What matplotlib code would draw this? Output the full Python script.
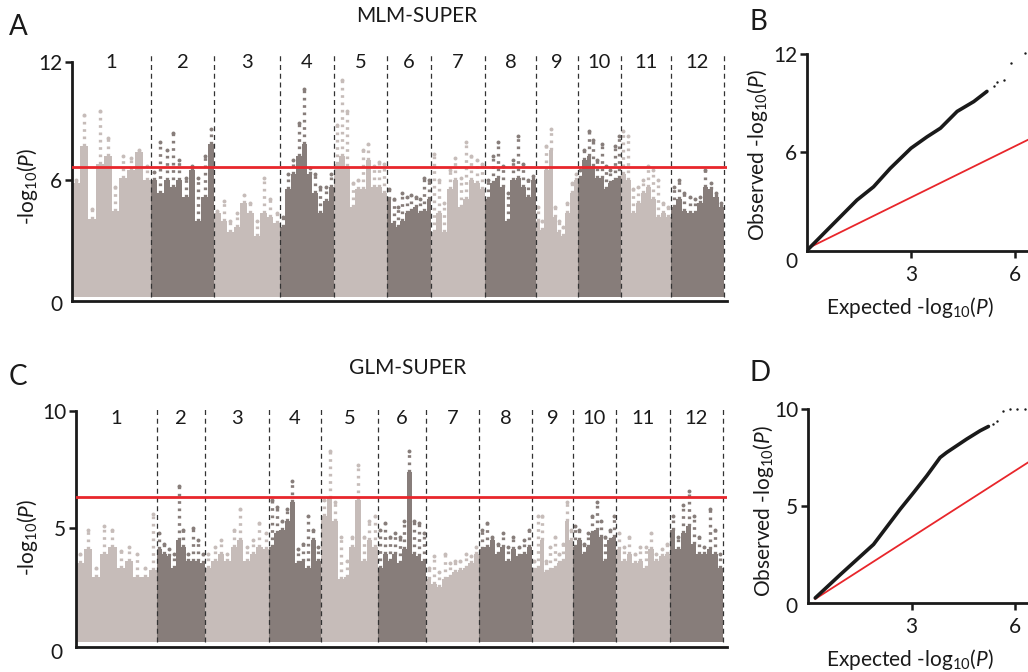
import numpy as np
import matplotlib
matplotlib.use("Agg")
import matplotlib.pyplot as plt

plt.rcParams['font.family'] = ['Lato', 'DejaVu Sans']
plt.rcParams['mathtext.fontset'] = 'custom'
plt.rcParams['mathtext.rm'] = 'Lato'
plt.rcParams['mathtext.it'] = 'Lato:italic'
plt.rcParams['mathtext.default'] = 'regular'

# ---- data ----
chromosomes = [str(i) for i in range(1, 13)]

# relative chromosome widths as drawn in each Manhattan panel
mlm_widths = [79, 63, 66, 54, 53, 44, 54, 51, 42, 43, 50, 53]
glm_widths = [81, 48, 64, 52, 57, 48, 53, 53, 41, 43, 54, 53]

# MLM-SUPER: dense body height and highest point, 10 windows per chromosome
mlm_body = [
    [5.8, 7.7, 4.0, 6.8, 7.2, 4.4, 6.1, 6.5, 7.4, 6.0],
    [6.0, 5.3, 6.0, 5.6, 6.0, 5.1, 6.5, 3.9, 5.1, 7.8],
    [4.3, 3.9, 3.3, 3.6, 4.8, 4.3, 3.1, 4.3, 4.1, 3.8],
    [3.6, 5.5, 6.3, 7.2, 7.8, 6.3, 5.3, 4.3, 4.9, 5.6],
    [6.8, 7.2, 6.7, 4.6, 5.5, 5.5, 7.0, 5.6, 5.6, 5.3],
    [5.0, 3.8, 3.6, 3.9, 4.3, 4.4, 4.6, 4.3, 4.4, 5.0],
    [3.3, 4.3, 3.3, 5.5, 6.0, 4.6, 5.0, 6.0, 5.8, 5.5],
    [5.0, 5.8, 6.1, 5.6, 3.9, 6.0, 6.1, 5.6, 5.1, 6.0],
    [3.9, 3.4, 6.5, 7.5, 4.1, 3.3, 3.1, 4.3, 5.3, 6.0],
    [6.1, 7.0, 7.2, 6.7, 6.1, 6.1, 5.5, 5.8, 6.0, 6.1],
    [6.3, 6.0, 4.3, 4.8, 5.3, 5.6, 5.0, 4.1, 4.3, 4.1],
    [4.6, 5.0, 4.4, 4.3, 4.3, 4.8, 5.6, 5.5, 5.1, 4.6],
]
mlm_peak = [
    [6.0, 9.3, 4.5, 9.5, 8.1, 5.6, 7.2, 7.1, 7.5, 6.7],
    [6.4, 7.9, 7.5, 8.4, 7.0, 6.1, 6.7, 6.1, 7.2, 8.6],
    [4.4, 4.9, 3.9, 4.3, 5.2, 4.8, 3.9, 6.1, 5.0, 4.3],
    [4.1, 6.3, 7.0, 8.9, 10.6, 6.6, 6.3, 5.6, 5.6, 6.3],
    [8.8, 11.1, 9.5, 5.8, 6.0, 7.5, 7.8, 6.7, 6.9, 6.8],
    [5.5, 5.0, 4.6, 5.3, 5.1, 5.2, 5.1, 5.0, 6.1, 6.0],
    [7.3, 6.0, 4.8, 6.5, 7.1, 6.1, 7.9, 7.2, 7.0, 6.8],
    [6.0, 7.2, 7.9, 6.7, 5.3, 7.0, 8.2, 6.8, 6.0, 6.2],
    [4.6, 3.9, 7.7, 8.6, 4.6, 3.9, 3.6, 4.8, 5.8, 6.3],
    [6.5, 7.5, 8.5, 8.0, 7.0, 7.8, 6.7, 6.5, 7.7, 8.2],
    [8.5, 8.2, 5.5, 5.6, 6.0, 6.7, 6.5, 6.0, 4.8, 4.6],
    [5.6, 6.0, 5.3, 5.1, 5.0, 5.1, 6.5, 5.8, 5.3, 4.8],
]

# GLM-SUPER
glm_body = [
    [3.5, 4.1, 2.9, 3.9, 4.2, 3.3, 3.6, 2.9, 2.9, 3.2],
    [4.1, 3.9, 3.8, 3.3, 4.5, 4.2, 3.6, 3.6, 3.6, 3.5],
    [3.3, 3.6, 3.9, 3.6, 4.2, 4.5, 3.6, 3.9, 4.2, 4.1],
    [4.2, 4.8, 4.9, 5.3, 6.1, 3.5, 3.6, 3.3, 4.5, 3.6],
    [5.5, 6.3, 5.3, 2.8, 2.9, 4.2, 6.2, 3.6, 4.5, 4.2],
    [3.3, 3.9, 3.6, 3.9, 3.5, 4.1, 7.4, 3.9, 3.8, 3.6],
    [2.8, 2.6, 2.5, 2.8, 2.9, 3.1, 3.2, 3.3, 3.5, 3.9],
    [4.1, 4.2, 4.5, 3.9, 4.2, 3.6, 4.1, 3.8, 3.9, 4.2],
    [3.2, 3.3, 4.5, 3.1, 3.2, 3.3, 3.5, 3.6, 5.3, 4.5],
    [4.2, 4.5, 3.9, 4.2, 4.8, 4.9, 4.6, 3.6, 4.5, 4.6],
    [4.1, 3.6, 3.9, 3.5, 3.6, 3.3, 4.1, 3.6, 3.8, 3.9],
    [4.9, 4.1, 4.8, 5.1, 4.3, 3.9, 3.9, 4.1, 3.9, 3.3],
]
glm_peak = [
    [3.9, 4.9, 3.3, 5.1, 4.9, 4.0, 4.2, 3.9, 3.3, 5.6],
    [4.8, 4.3, 4.1, 3.9, 6.8, 4.9, 3.9, 5.0, 4.5, 3.9],
    [3.9, 4.2, 4.5, 3.9, 4.9, 5.8, 4.2, 4.5, 5.2, 4.8],
    [6.2, 5.9, 5.3, 5.8, 7.0, 4.1, 4.3, 5.5, 4.9, 4.2],
    [6.2, 8.3, 6.1, 4.6, 3.6, 4.6, 7.7, 4.6, 5.3, 5.5],
    [4.9, 5.2, 4.6, 4.8, 4.6, 5.3, 8.3, 5.3, 5.2, 4.8],
    [3.3, 3.8, 3.1, 3.9, 3.5, 3.6, 3.6, 3.9, 3.8, 4.2],
    [4.9, 5.2, 4.6, 4.3, 4.8, 4.2, 4.6, 4.2, 4.5, 4.9],
    [3.6, 5.5, 5.5, 3.6, 4.2, 4.6, 3.9, 4.3, 6.1, 4.9],
    [5.1, 4.9, 4.3, 4.8, 5.5, 6.1, 5.3, 4.6, 4.9, 5.5],
    [4.8, 4.2, 4.6, 3.9, 4.2, 4.2, 4.8, 3.9, 4.1, 4.3],
    [5.5, 4.6, 6.0, 6.6, 5.5, 4.6, 4.2, 5.8, 4.9, 3.9],
]

mlm_threshold = 6.64
glm_threshold = 6.32

# QQ plots: expected vs observed -log10(P)
mlm_qq_expected = [0.05, 0.48, 0.96, 1.44, 1.92, 2.4, 3.0, 3.46, 3.85, 4.33, 4.81, 5.19]
mlm_qq_observed = [0.14, 1.06, 2.08, 3.1, 3.91, 5.03, 6.26, 6.95, 7.48, 8.5, 9.1, 9.72]
mlm_tail_expected = [5.38, 5.48, 5.67, 5.88, 6.3]
mlm_tail_observed = [10.07, 10.27, 10.43, 11.45, 12.06]
mlm_null_x = [0.0, 6.4]
mlm_null_y = [0.14, 6.8]

glm_qq_expected = [0.21, 0.94, 1.9, 2.67, 3.06, 3.44, 3.83, 4.02, 4.6, 4.99, 5.23]
glm_qq_observed = [0.26, 1.47, 3.02, 4.83, 5.69, 6.55, 7.5, 7.76, 8.45, 8.88, 9.1]
glm_tail_expected = [5.37, 5.47, 5.66, 5.85, 6.05, 6.29]
glm_tail_observed = [9.22, 9.4, 9.91, 10.0, 10.0, 10.0]
glm_null_x = [0.21, 6.4]
glm_null_y = [0.21, 7.27]

# ---- drawing ----
W, H = 1028, 672
LIGHT = '#c6bcb9'
DARK = '#877d7a'
RED = '#e8262b'
INK = '#1a1a1a'

fig = plt.figure(figsize=(W / 100, H / 100), dpi=100)


def px_box(left, top, right, bottom):
    return [left / W, 1 - bottom / H, (right - left) / W, (bottom - top) / H]


def manhattan(ax, widths, body, peak, base, threshold, label_y, line_top):
    starts = np.concatenate([[0], np.cumsum(widths)[:-1]])
    for i, (s, w) in enumerate(zip(starts, widths)):
        col = LIGHT if i % 2 == 0 else DARK
        b = np.array(body[i])
        p = np.array(peak[i])
        n = len(b)
        bw = w / n
        edges = s + bw * np.arange(n + 1)
        # one solid silhouette per chromosome (no seams between windows)
        ax.fill_between(edges, base, np.append(b, b[-1]), step='post',
                        color=col, linewidth=0, zorder=2)
        xc = edges[:-1] + bw / 2
        ax.vlines(xc, b, p, colors=col, linewidth=2.4,
                  linestyles=(0, (0.8, 1.4)), zorder=2)
        ax.scatter(xc, p, s=8, color=col, linewidths=0, zorder=2)
        ax.text(s + w / 2, label_y, chromosomes[i], ha='center', va='center',
                fontsize=14.5, color=INK)
    bounds = starts[1:].tolist() + [starts[-1] + widths[-1]]
    ax.vlines(bounds, base, line_top, colors='#333333', linewidth=0.9,
              linestyles=(0, (4, 3)), zorder=3)
    ax.axhline(threshold, color=RED, linewidth=2, zorder=4)
    for side in ['top', 'right']:
        ax.spines[side].set_visible(False)
    ax.spines['left'].set_linewidth(2)
    ax.spines['bottom'].set_linewidth(2)
    ax.spines['left'].set_color(INK)
    ax.spines['bottom'].set_color(INK)
    ax.set_xticks([])
    ax.tick_params(axis='y', length=5, width=1.8, pad=2, labelsize=15,
                   colors=INK)


def qq(ax, ex, ob, tx, ty, nx, ny):
    ax.plot(nx, ny, color=RED, linewidth=1.3, zorder=2)
    ax.plot(ex, ob, color=INK, linewidth=2.6, solid_capstyle='round',
            solid_joinstyle='round', zorder=3)
    ax.scatter(tx, ty, s=3, color=INK, linewidths=0, zorder=3)
    for side in ['top', 'right']:
        ax.spines[side].set_visible(False)
    ax.spines['left'].set_linewidth(2)
    ax.spines['bottom'].set_linewidth(2)
    ax.spines['left'].set_color(INK)
    ax.spines['bottom'].set_color(INK)
    ax.tick_params(length=5, width=1.8, labelsize=15, colors=INK)
    ax.tick_params(axis='x', pad=5)
    ax.tick_params(axis='y', pad=2)


# Panel A
axA = fig.add_axes(px_box(72, 50.3, 727, 301))
manhattan(axA, mlm_widths, mlm_body, mlm_peak, 0.0, mlm_threshold, 12.0, 12.45)
axA.set_xlim(0, 655)
axA.set_ylim(-0.2, 12.6)
axA.set_yticks([6, 12])
axA.spines['left'].set_bounds(-0.2, 12)
axA.text(-15.3, -0.41, '0', ha='center', va='center', fontsize=15, color=INK)

# Panel C
axC = fig.add_axes(px_box(76, 404, 727, 647))
manhattan(axC, glm_widths, glm_body, glm_peak, 0.15, glm_threshold, 9.7, 10.2)
axC.set_xlim(0, 651)
axC.set_ylim(-0.085, 10.3)
axC.set_yticks([5, 10])
axC.spines['left'].set_bounds(-0.085, 10)
axC.text(-19.3, -0.34, '0', ha='center', va='center', fontsize=15, color=INK)

# Panel B
axB = fig.add_axes(px_box(807, 251 - 12.3 * 16.42, 1032, 251))
qq(axB, mlm_qq_expected, mlm_qq_observed, mlm_tail_expected, mlm_tail_observed,
   mlm_null_x, mlm_null_y)
axB.set_xlim(0, 225 / 34.67)
axB.set_ylim(0, 12.3)
axB.set_xticks([3, 6])
axB.set_yticks([6, 12])
axB.spines['left'].set_bounds(0, 12)
axB.text(-0.44, -0.65, '0', ha='center', va='center', fontsize=15, color=INK,
         clip_on=False)

# Panel D
axD = fig.add_axes(px_box(808, 603 - 10.3 * 19.4, 1033, 603))
qq(axD, glm_qq_expected, glm_qq_observed, glm_tail_expected, glm_tail_observed,
   glm_null_x, glm_null_y)
axD.set_xlim(0, 225 / 34.5)
axD.set_ylim(0, 10.3)
axD.set_xticks([3, 6])
axD.set_yticks([5, 10])
axD.spines['left'].set_bounds(0, 10)
axD.text(-0.47, -0.19, '0', ha='center', va='center', fontsize=15, color=INK,
         clip_on=False)


def ftext(x, y, s, **kw):
    fig.text(x / W, 1 - y / H, s, ha='center', va='center', color=INK, **kw)


ylab = '-log$_{10}$($\\it{P}$)'
ftext(18, 27, 'A', fontsize=20)
ftext(758, 22, 'B', fontsize=20)
ftext(18, 377, 'C', fontsize=20)
ftext(760, 373, 'D', fontsize=20)
ftext(417, 16, 'MLM-SUPER', fontsize=15)
ftext(408, 368, 'GLM-SUPER', fontsize=15)
ftext(27, 187, ylab, fontsize=15, rotation=90)
ftext(27, 538, ylab, fontsize=15, rotation=90)
ftext(758, 155, 'Observed ' + ylab, fontsize=15, rotation=90)
ftext(763, 511, 'Observed ' + ylab, fontsize=15, rotation=90)
ftext(910, 307, 'Expected ' + ylab, fontsize=15)
ftext(910, 660, 'Expected ' + ylab, fontsize=15)

fig.savefig('out.png', dpi=100)
